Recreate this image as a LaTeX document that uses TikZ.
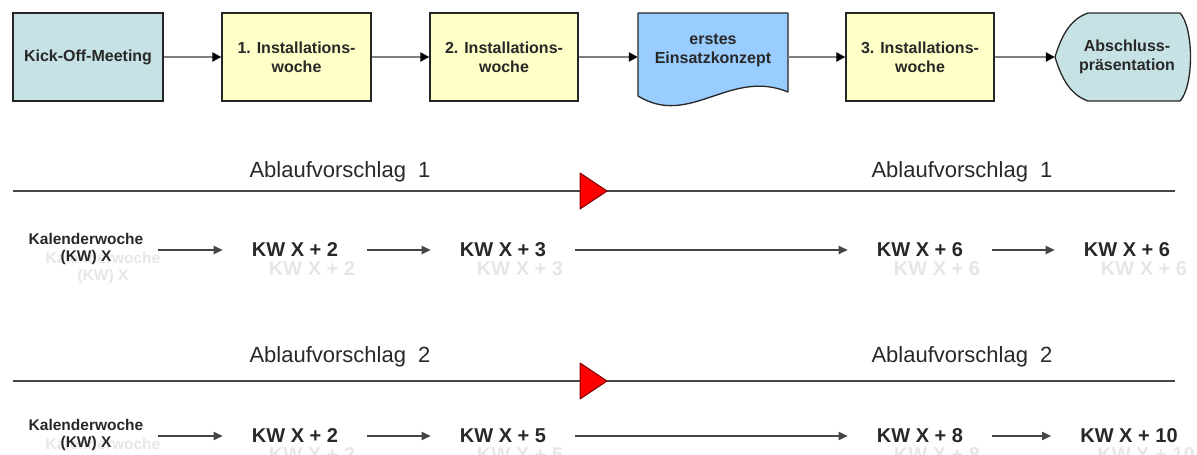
\documentclass[tikz,border=0pt]{standalone}
\usepackage{fontspec}
\setmainfont{Liberation Sans}
\usetikzlibrary{arrows.meta}

\definecolor{kickfill}{RGB}{198,226,228}
\definecolor{weekfill}{RGB}{255,255,200}
\definecolor{docfill}{RGB}{153,204,255}
\definecolor{linegray}{RGB}{128,128,128}
\definecolor{trackgray}{RGB}{70,70,70}
\definecolor{txtdark}{RGB}{40,40,40}
\definecolor{ghostgray}{RGB}{230,230,230}

\tikzset{
  phase/.style={draw=black!85, line width=1.3pt, minimum width=#1, minimum height=88pt,
    align=center, inner sep=0pt, text=txtdark,
    font=\bfseries\fontsize{16}{19}\selectfont},
  phase/.default=150pt,
  shapeonly/.style={minimum width=#1, minimum height=88pt, inner sep=0pt},
  flow/.style={draw=linegray, line width=2.4pt,
    -{Triangle[color=black,length=9pt,width=9pt]}},
  track/.style={draw=trackgray, line width=1.8pt},
  marker/.style={fill=red, draw=red!50!black, line width=1pt, line join=round},
  proposal/.style={font=\fontsize{22}{25}\selectfont, text=txtdark},
  week/.style={font=\bfseries\fontsize{20}{23}\selectfont, text=txtdark, inner xsep=29pt},
  calweek/.style={font=\bfseries\fontsize{15.5}{17}\selectfont, text=txtdark, align=center, inner xsep=15pt},
  ghostweek/.style={week, text=ghostgray},
  ghostcal/.style={calweek, text=ghostgray},
  go/.style={draw=trackgray, line width=1.8pt, -{Triangle[length=9pt,width=8pt]}},
}

\begin{document}
\begin{tikzpicture}[x=1pt,y=-1pt]
\useasboundingbox (0,0) rectangle (1197,455);

% ---------- process chain ----------
\node[phase, fill=kickfill] (kick) at (88,57) {Kick-Off-Meeting};
\node[phase=149pt, fill=weekfill] (w1) at (296.5,57) {1. Installations-\\woche};
\node[phase=148pt, fill=weekfill] (w2) at (504,57) {2. Installations-\\woche};

% document shape with wavy lower edge
\node[shapeonly=150pt] (konz) at (713,57) {};
\draw[fill=docfill, draw=black!85, line width=1.3pt, line join=round]
  (638,13) -- (788,13) -- (788,92)
  .. controls (730,68) and (690,128) .. (638,96) -- cycle;
\node[align=center, text=txtdark, font=\bfseries\fontsize{16}{19}\selectfont]
  (konztxt) at (713,50) {erstes\\Einsatzkonzept};

\node[phase=148pt, fill=weekfill] (w3) at (920,57) {3. Installations-\\woche};

% display shape for the final presentation
\node[shapeonly=138pt] (absch) at (1124,57) {};
\draw[fill=kickfill, draw=black!85, line width=1.3pt, line join=round]
  (1055,57) .. controls (1062,34) and (1071,19) .. (1088,13) -- (1180,13)
  .. controls (1194,28) and (1194,86) .. (1180,101) -- (1088,101)
  .. controls (1071,95) and (1062,80) .. cycle;
\node[align=center, text=txtdark, font=\bfseries\fontsize{16}{19}\selectfont]
  (abschtxt) at (1127,57) {Abschluss-\\präsentation};

\draw[flow] (kick) -- (w1);
\draw[flow] (w1) -- (w2);
\draw[flow] (w2) -- (konz);
\draw[flow] (konz) -- (w3);
\draw[flow] (w3) -- (absch);

% ---------- proposal 1 ----------
\coordinate (t1s) at (13,191);
\coordinate (t1e) at (1175,191);
\draw[track] (t1s) -- (t1e);
\draw[marker] (580,173) -- (607,191) -- (580,209) -- cycle;
\node[proposal] (p1l) at (340,172) {Ablaufvorschlag\ \ 1};
\node[proposal] (p1r) at (962,172) {Ablaufvorschlag\ \ 1};

\node[ghostcal] (g1k) at (103,268) {Kalenderwoche\\(KW) X};
\node[ghostweek] (g1a) at (312,269) {KW X + 2};
\node[ghostweek] (g1b) at (520,269) {KW X + 3};
\node[ghostweek] (g1c) at (937,269) {KW X + 6};
\node[ghostweek] (g1d) at (1144,269) {KW X + 6};

\node[calweek] (r1k) at (86,249) {Kalenderwoche\\(KW) X};
\node[week] (r1a) at (295,250) {KW X + 2};
\node[week] (r1b) at (503,250) {KW X + 3};
\node[week] (r1c) at (920,250) {KW X + 6};
\node[week] (r1d) at (1127,250) {KW X + 6};
\draw[go] (r1k.east |- r1a) -- (r1a);
\draw[go] (r1a) -- (r1b);
\draw[go] (r1b) -- (r1c);
\draw[go] (r1c) -- (r1d);

% ---------- proposal 2 ----------
\coordinate (t2s) at (13,381);
\coordinate (t2e) at (1175,381);
\draw[track] (t2s) -- (t2e);
\draw[marker] (580,363) -- (607,381) -- (580,399) -- cycle;
\node[proposal] (p2l) at (340,357) {Ablaufvorschlag\ \ 2};
\node[proposal] (p2r) at (962,357) {Ablaufvorschlag\ \ 2};

\node[ghostcal] (g2k) at (103,454) {Kalenderwoche\\(KW) X};
\node[ghostweek] (g2a) at (312,455) {KW X + 2};
\node[ghostweek] (g2b) at (520,455) {KW X + 5};
\node[ghostweek] (g2c) at (937,455) {KW X + 8};
\node[ghostweek] (g2d) at (1146,455) {KW X + 10};

\node[calweek] (r2k) at (86,435) {Kalenderwoche\\(KW) X};
\node[week] (r2a) at (295,436) {KW X + 2};
\node[week] (r2b) at (503,436) {KW X + 5};
\node[week] (r2c) at (920,436) {KW X + 8};
\node[week] (r2d) at (1129,436) {KW X + 10};
\draw[go] (r2k.east |- r2a) -- (r2a);
\draw[go] (r2a) -- (r2b);
\draw[go] (r2b) -- (r2c);
\draw[go] (r2c) -- (r2d);
\end{tikzpicture}
\end{document}
